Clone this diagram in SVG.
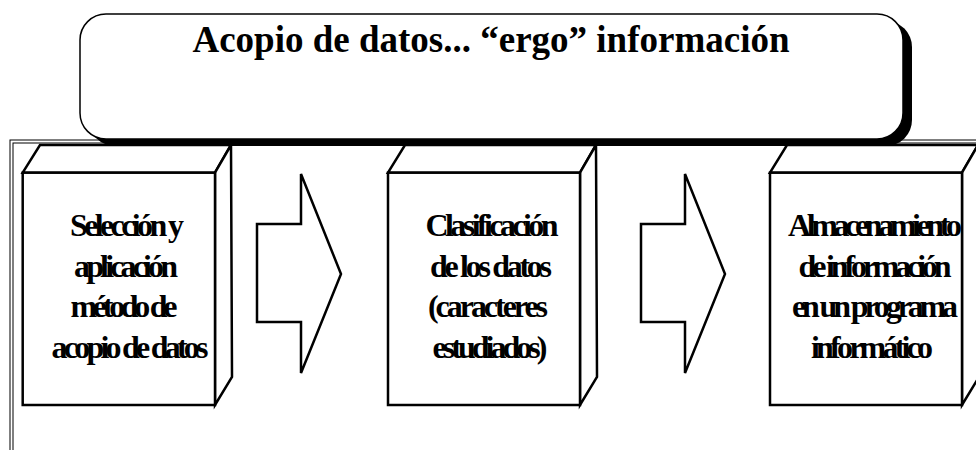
<svg xmlns="http://www.w3.org/2000/svg" width="976" height="450" viewBox="0 0 976 450">
<style>
.frame{fill:none;stroke:#000;stroke-width:1}
.cube{fill:#fff;stroke:#000;stroke-width:2.5;stroke-linejoin:miter}
.arrow{fill:#fff;stroke:#000;stroke-width:2.5;stroke-linejoin:miter}
text{font-family:'Liberation Serif','DejaVu Serif','Times New Roman',serif;font-weight:bold;text-anchor:middle;fill:#000}
.lbl{font-size:32px}
.title{font-size:37px}
</style>
<rect width="976" height="450" fill="#fff"/>
<g id="frame">
<rect class="frame" x="10" y="140" width="980" height="330"/>
<rect class="frame" x="13" y="143" width="980" height="330"/>
</g>
<g id="node1">
<path class="cube" d="M22.7,172.7 L40,145 L231,145 L215,172.7 Z"/>
<path class="cube" d="M215,172.7 L231,145 L232,377 L215,405 Z"/>
<rect class="cube" x="22.7" y="172.7" width="192.3" height="232.3"/>
<text class="lbl" x="127" y="236" textLength="114" lengthAdjust="spacing">Selección y</text>
<text class="lbl" x="126" y="276.5" textLength="104" lengthAdjust="spacing">aplicación</text>
<text class="lbl" x="124" y="317" textLength="107" lengthAdjust="spacing">método de</text>
<text class="lbl" x="130" y="357.5" textLength="157" lengthAdjust="spacing">acopio de datos</text>
</g>
<g id="node2">
<path class="cube" d="M388,172.7 L405,145 L596,145 L580,172.7 Z"/>
<path class="cube" d="M580,172.7 L596,145 L597,377 L580,405 Z"/>
<rect class="cube" x="388" y="172.7" width="192" height="232.3"/>
<text class="lbl" x="492" y="236" textLength="133" lengthAdjust="spacing">Clasificación</text>
<text class="lbl" x="491" y="276.5" textLength="122" lengthAdjust="spacing">de los datos</text>
<text class="lbl" x="488" y="317" textLength="120" lengthAdjust="spacing">(caracteres</text>
<text class="lbl" x="490" y="357.5" textLength="115" lengthAdjust="spacing">estudiados)</text>
</g>
<g id="node3">
<path class="cube" d="M770,172.7 L787,145 L978,145 L962,172.7 Z"/>
<path class="cube" d="M962,172.7 L978,145 L979,377 L962,405 Z"/>
<rect class="cube" x="770" y="172.7" width="192" height="232.3"/>
<text class="lbl" x="875" y="236" textLength="174" lengthAdjust="spacing">Almacenamiento</text>
<text class="lbl" x="875" y="276.5" textLength="153" lengthAdjust="spacing">de información</text>
<text class="lbl" x="875" y="317" textLength="166" lengthAdjust="spacing">en un programa</text>
<text class="lbl" x="872" y="357.5" textLength="122" lengthAdjust="spacing">informático</text>
</g>
<g id="connectors">
<path class="arrow" d="M257,224 H301 V174 L341,274 L301,373 V322 H257 Z"/>
<path class="arrow" d="M641,224 H685 V174 L725,274 L685,373 V322 H641 Z"/>
</g>
<g id="title">
<rect x="89" y="21" width="823" height="125" rx="26" ry="26" fill="#000"/>
<rect x="80" y="14" width="823" height="125" rx="26" ry="26" fill="#fff" stroke="#000" stroke-width="1.5"/>
<text class="title" x="491" y="52">Acopio de datos... “ergo” información</text>
</g>
</svg>
